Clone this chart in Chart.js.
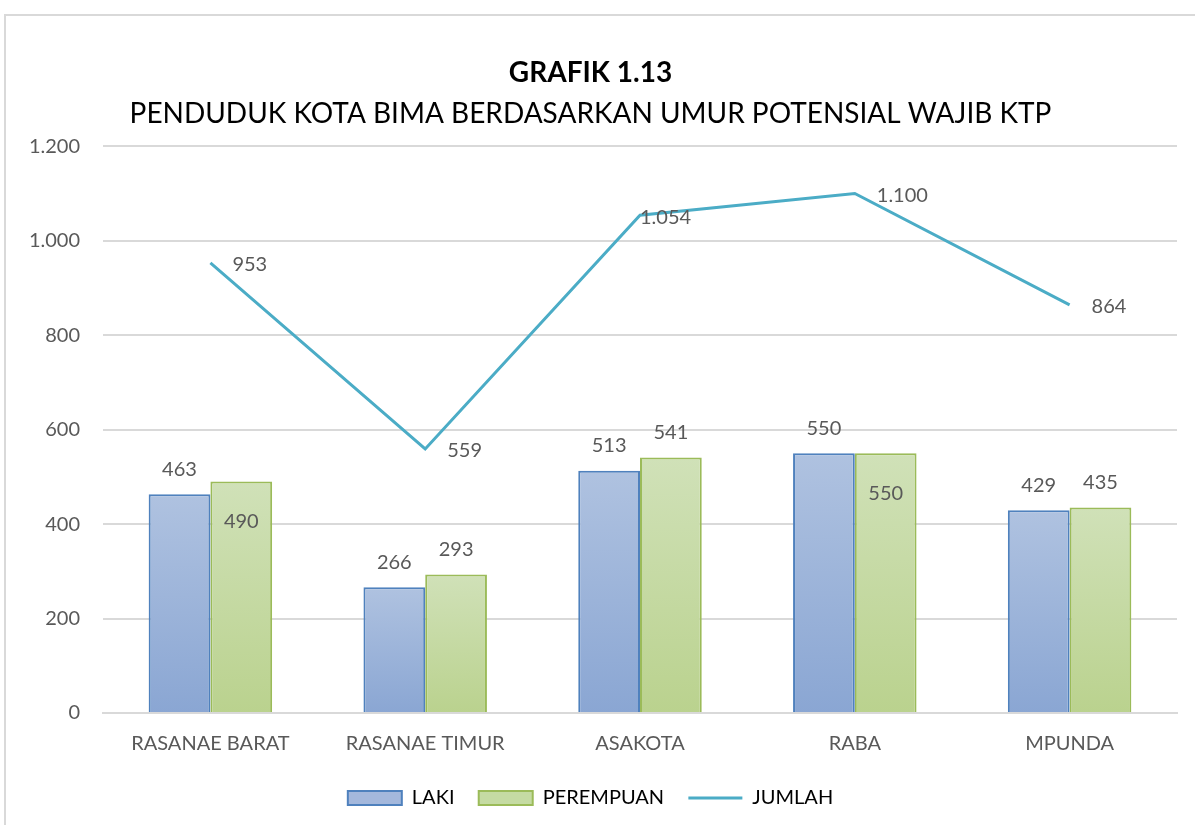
<!DOCTYPE html>
<html>
<head>
<meta charset="utf-8">
<script src="https://cdn.jsdelivr.net/npm/chart.js@4/dist/chart.umd.min.js"></script>
<style>
  html, body { margin: 0; padding: 0; background: #fff; overflow: hidden; }
  #frame { position: absolute; left: 4px; top: 14px; width: 1300px; height: 900px; border: 2px solid #d9d9d9; box-sizing: border-box; }
  #wrap { position: absolute; left: 0; top: 0; width: 1195px; height: 825px; }
</style>
</head>
<body>
<div id="frame"></div>
<div id="wrap"><canvas id="chart" width="1195" height="825"></canvas></div>
<script>
const categories = ['RASANAE BARAT', 'RASANAE TIMUR', 'ASAKOTA', 'RABA', 'MPUNDA'];
const laki = [463, 266, 513, 550, 429];
const perempuan = [490, 293, 541, 550, 435];
const jumlah = [953, 559, 1054, 1100, 864];
const yTicks = [0, 200, 400, 600, 800, 1000, 1200];

const gray = '#595959';
const fontFamily = 'Lato, "Open Sans", sans-serif';

function fmt(v) {
  return String(v).replace(/\B(?=(\d{3})+(?!\d))/g, '.');
}

// gradient per bar, light at the top of each bar
function barGradient(c, top, bottom) {
  const y = c.chart.scales.y;
  if (!y || c.parsed === undefined) return top;
  const y0 = y.getPixelForValue(c.parsed.y);
  const y1 = y.getPixelForValue(0);
  if (!isFinite(y0) || !isFinite(y1) || y0 === y1) return top;
  const g = c.chart.ctx.createLinearGradient(0, y0, 0, y1);
  g.addColorStop(0, top);
  g.addColorStop(1, bottom);
  return g;
}

// data labels, placed roughly like the Excel original
const valueLabels = {
  id: 'valueLabels',
  afterDatasetsDraw(chart) {
    const ctx = chart.ctx;
    const insideBar = [[], [true, false, false, true, false]];
    const lineDx = [22, 22, 0, 22, 22];
    ctx.save();
    ctx.font = '20px ' + fontFamily;
    ctx.fillStyle = gray;
    ctx.textBaseline = 'middle';
    chart.data.datasets.forEach((ds, i) => {
      const meta = chart.getDatasetMeta(i);
      meta.data.forEach((el, j) => {
        const text = fmt(ds.data[j]);
        if (ds.type === 'line') {
          ctx.textAlign = 'left';
          ctx.fillText(text, el.x + lineDx[j], el.y + 2);
        } else {
          ctx.textAlign = 'center';
          const inside = insideBar[i] && insideBar[i][j];
          ctx.fillText(text, el.x, inside ? el.y + 40 : el.y - 25);
        }
      });
    });
    ctx.restore();
  }
};

new Chart(document.getElementById('chart'), {
  data: {
    labels: categories,
    datasets: [
      {
        type: 'bar', label: 'LAKI', data: laki,
        backgroundColor: (c) => barGradient(c, '#afc2e0', '#8aa6d3'),
        borderColor: '#4f81bd', borderWidth: 2,
        barPercentage: 1, categoryPercentage: 0.575
      },
      {
        type: 'bar', label: 'PEREMPUAN', data: perempuan,
        backgroundColor: (c) => barGradient(c, '#d0e1b8', '#bad28e'),
        borderColor: '#9bbb59', borderWidth: 2,
        barPercentage: 1, categoryPercentage: 0.575
      },
      {
        type: 'line', label: 'JUMLAH', data: jumlah,
        borderColor: '#4bacc6', borderWidth: 3, pointRadius: 0, tension: 0, order: -1
      }
    ]
  },
  options: {
    responsive: false,
    animation: false,
    layout: { padding: { top: 56, left: 4, right: 18, bottom: 7 } },
    plugins: {
      title: {
        display: true, text: 'GRAFIK 1.13', color: '#000',
        font: { family: fontFamily, size: 28, weight: 'bold' },
        padding: { top: 0, bottom: 8 }
      },
      subtitle: {
        display: true, text: 'PENDUDUK KOTA BIMA BERDASARKAN UMUR POTENSIAL WAJIB KTP', color: '#000',
        font: { family: fontFamily, size: 28 },
        padding: { top: 0, bottom: 15 }
      },
      legend: {
        position: 'bottom',
        labels: {
          color: gray, font: { family: fontFamily, size: 20 },
          usePointStyle: true, pointStyleWidth: 54, boxHeight: 14, padding: 14,
          generateLabels: () => [
            { text: 'LAKI  ', fillStyle: '#a4b8dc', strokeStyle: '#4f81bd', lineWidth: 2, pointStyle: 'rect', datasetIndex: 0 },
            { text: 'PEREMPUAN  ', fillStyle: '#c5dba3', strokeStyle: '#9bbb59', lineWidth: 2, pointStyle: 'rect', datasetIndex: 1 },
            { text: 'JUMLAH', fillStyle: '#4bacc6', strokeStyle: '#4bacc6', lineWidth: 3, pointStyle: 'line', datasetIndex: 2 }
          ]
        }
      },
      tooltip: { enabled: false }
    },
    scales: {
      x: {
        grid: { display: false, drawTicks: false },
        border: { color: '#d9d9d9', width: 2 },
        ticks: { color: gray, font: { family: fontFamily, size: 20 }, padding: 18.5, maxRotation: 0 }
      },
      y: {
        min: 0, max: 1200,
        afterBuildTicks: (axis) => { axis.ticks = yTicks.map((v) => ({ value: v })); },
        afterFit: (axis) => { axis.width = 99; },
        grid: { color: '#d9d9d9', lineWidth: 2, drawTicks: false },
        border: { display: false },
        ticks: { color: gray, font: { family: fontFamily, size: 20 }, padding: 23, callback: (v) => fmt(v) }
      }
    }
  },
  plugins: [valueLabels]
});
</script>
</body>
</html>
